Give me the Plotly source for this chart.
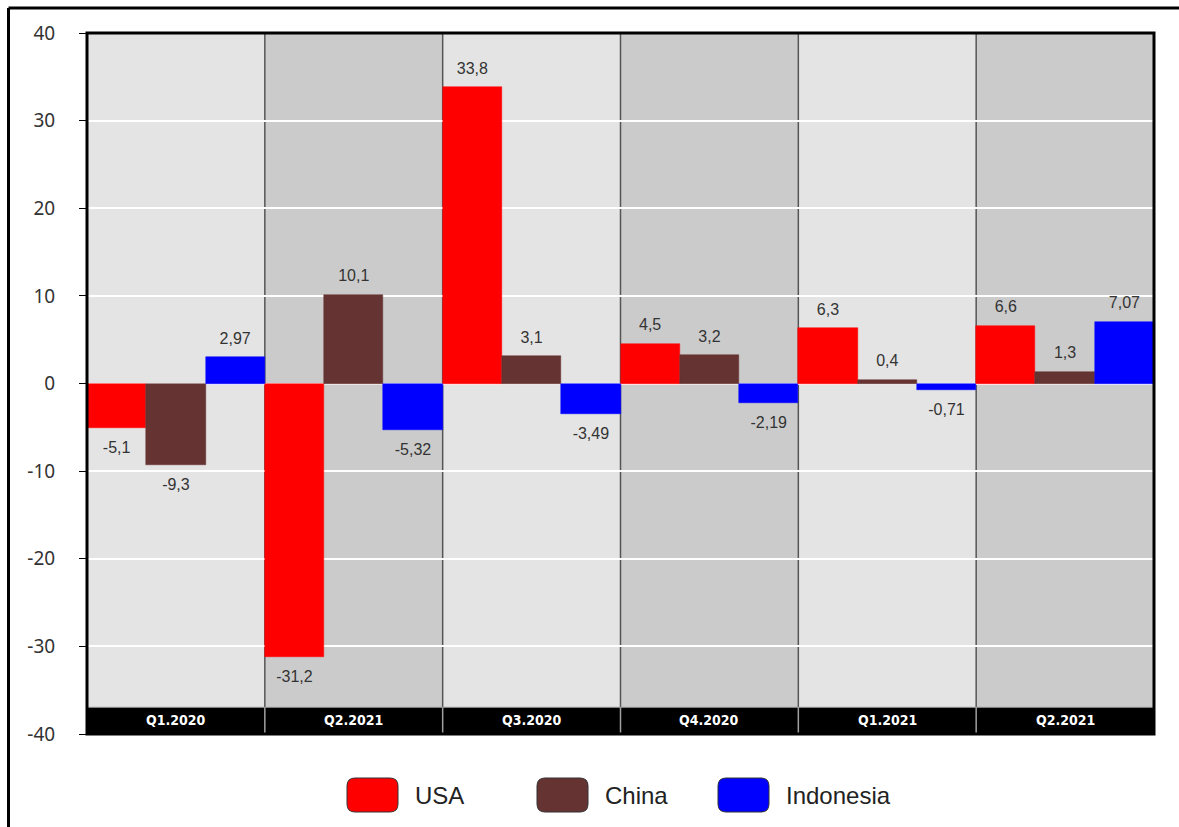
import plotly.graph_objects as go

quarters = ["Q1.2020", "Q2.2021", "Q3.2020", "Q4.2020", "Q1.2021", "Q2.2021"]
usa = [-5.1, -31.2, 33.8, 4.5, 6.3, 6.6]
china = [-9.3, 10.1, 3.1, 3.2, 0.4, 1.3]
indonesia = [2.97, -5.32, -3.49, -2.19, -0.71, 7.07]
series_names = ["USA", "China", "Indonesia"]
series_colors = ["#ff0000", "#663333", "#0000ff"]
y_ticks = [-40, -30, -20, -10, 0, 10, 20, 30, 40]

W, H = 1179, 827
L, R, T, B = 87, 25, 33, 93
PW, PH = W - L - R, H - T - B


def px_x(px):
    return (px - L) / PW


def px_y(py):
    return (H - B - py) / PH


def fmt(v):
    return f"{v:g}".replace(".", ",")


xs = list(range(len(quarters)))
fig = go.Figure()
all_series = [usa, china, indonesia]
for i, (name, vals, col) in enumerate(zip(series_names, all_series, series_colors)):
    fig.add_trace(go.Bar(
        x=xs, y=vals, name=name, offsetgroup=str(i),
        marker=dict(color=col, line=dict(color=col, width=0.5)),
        showlegend=False, hoverinfo="x+y",
    ))
for i, (name, vals) in enumerate(zip(series_names, all_series)):
    fig.add_trace(go.Scatter(
        x=xs, y=vals, mode="markers+text", offsetgroup=str(i),
        text=[fmt(v) for v in vals],
        textposition=["top center" if v >= 0 else "bottom center" for v in vals],
        marker=dict(size=[14 if v >= 0 else 19 for v in vals], color="rgba(0,0,0,0)",
                    line=dict(width=0, color="rgba(0,0,0,0)")),
        textfont=dict(family="Liberation Sans, Arial, sans-serif", size=16, color="#333333"),
        showlegend=False, hoverinfo="skip",
    ))

shapes = []
bg_colors = ["#e4e4e4", "#cbcbcb"]
for i in xs:
    shapes.append(dict(type="rect", xref="x", yref="y", x0=i - 0.5, x1=i + 0.5, y0=-40, y1=40,
                       fillcolor=bg_colors[i % 2], line=dict(width=0), layer="below"))
for i in xs[1:]:
    shapes.append(dict(type="line", xref="x", yref="y", x0=i - 0.5, x1=i - 0.5, y0=-40, y1=40,
                       line=dict(color="#555555", width=1.5), layer="below"))
# category band
shapes.append(dict(type="rect", xref="x", yref="y", x0=-0.5, x1=len(xs) - 0.5, y0=-40, y1=-36.95,
                   fillcolor="#000000", line=dict(color="#9a9a9a", width=1), layer="above"))
for i in xs[1:]:
    shapes.append(dict(type="line", xref="x", yref="y", x0=i - 0.5, x1=i - 0.5, y0=-40, y1=-36.95,
                       line=dict(color="#a0a0a0", width=1.5), layer="above"))
# plot frame
shapes.append(dict(type="rect", xref="paper", yref="paper", x0=0, x1=1, y0=0, y1=1,
                   line=dict(color="#000000", width=3), layer="above"))
# outer frame (left and top edges)
shapes.append(dict(type="line", xref="paper", yref="paper", x0=px_x(8.5), x1=px_x(8.5),
                   y0=px_y(8), y1=px_y(H + 5), line=dict(color="#000000", width=3)))
shapes.append(dict(type="line", xref="paper", yref="paper", x0=px_x(8.5), x1=px_x(W + 5),
                   y0=px_y(8), y1=px_y(8), line=dict(color="#000000", width=3)))

# custom legend
annotations = []
legend_swatch_x = [347, 537, 718]
sw_w, sw_h, rad = 51, 34, 8
sw_top = 778
for name, col, sx in zip(series_names, series_colors, legend_swatch_x):
    x0, x1 = sx, sx + sw_w
    y0, y1 = sw_top, sw_top + sw_h
    path = (
        f"M {px_x(x0 + rad)},{px_y(y0)} L {px_x(x1 - rad)},{px_y(y0)} "
        f"Q {px_x(x1)},{px_y(y0)} {px_x(x1)},{px_y(y0 + rad)} "
        f"L {px_x(x1)},{px_y(y1 - rad)} Q {px_x(x1)},{px_y(y1)} {px_x(x1 - rad)},{px_y(y1)} "
        f"L {px_x(x0 + rad)},{px_y(y1)} Q {px_x(x0)},{px_y(y1)} {px_x(x0)},{px_y(y1 - rad)} "
        f"L {px_x(x0)},{px_y(y0 + rad)} Q {px_x(x0)},{px_y(y0)} {px_x(x0 + rad)},{px_y(y0)} Z"
    )
    shapes.append(dict(type="path", xref="paper", yref="paper", path=path,
                       fillcolor=col, line=dict(color="#333333", width=1)))
    annotations.append(dict(xref="paper", yref="paper", x=px_x(x1 + 15), y=px_y(sw_top + sw_h / 2),
                            xanchor="left", yanchor="middle", showarrow=False, text=name,
                            font=dict(family="Liberation Sans, Arial, sans-serif", size=24, color="#222222")))

for i, q in zip(xs, quarters):
    annotations.append(dict(xref="x", yref="y", x=i, y=-38.45, text=f"<b>{q}</b>", showarrow=False,
                            xanchor="center", yanchor="middle",
                            font=dict(family="Liberation Sans Narrow, Arial Narrow, DejaVu Sans Condensed, sans-serif",
                                      size=14, color="#ffffff")))

fig.update_layout(
    width=W, height=H,
    margin=dict(l=L, r=R, t=T, b=B, autoexpand=False),
    paper_bgcolor="#ffffff", plot_bgcolor="#e4e4e4",
    barmode="group", bargap=0, bargroupgap=0,
    scattermode="group", scattergap=0,
    showlegend=False,
    shapes=shapes, annotations=annotations,
    xaxis=dict(range=[-0.5, len(xs) - 0.5], showticklabels=False, showgrid=False,
               zeroline=False, ticks="", fixedrange=True),
    yaxis=dict(range=[-40, 40], tickvals=y_ticks, ticktext=[str(v) for v in y_ticks],
               showgrid=True, gridcolor="#ffffff", gridwidth=2, zeroline=False,
               ticks="outside", ticklen=7, tickcolor="#000000", tickwidth=1,
               ticklabelstandoff=20,
               tickfont=dict(family="Noto Sans, Open Sans, sans-serif", size=19, color="#333333")),
)

fig.write_html("out.html")
